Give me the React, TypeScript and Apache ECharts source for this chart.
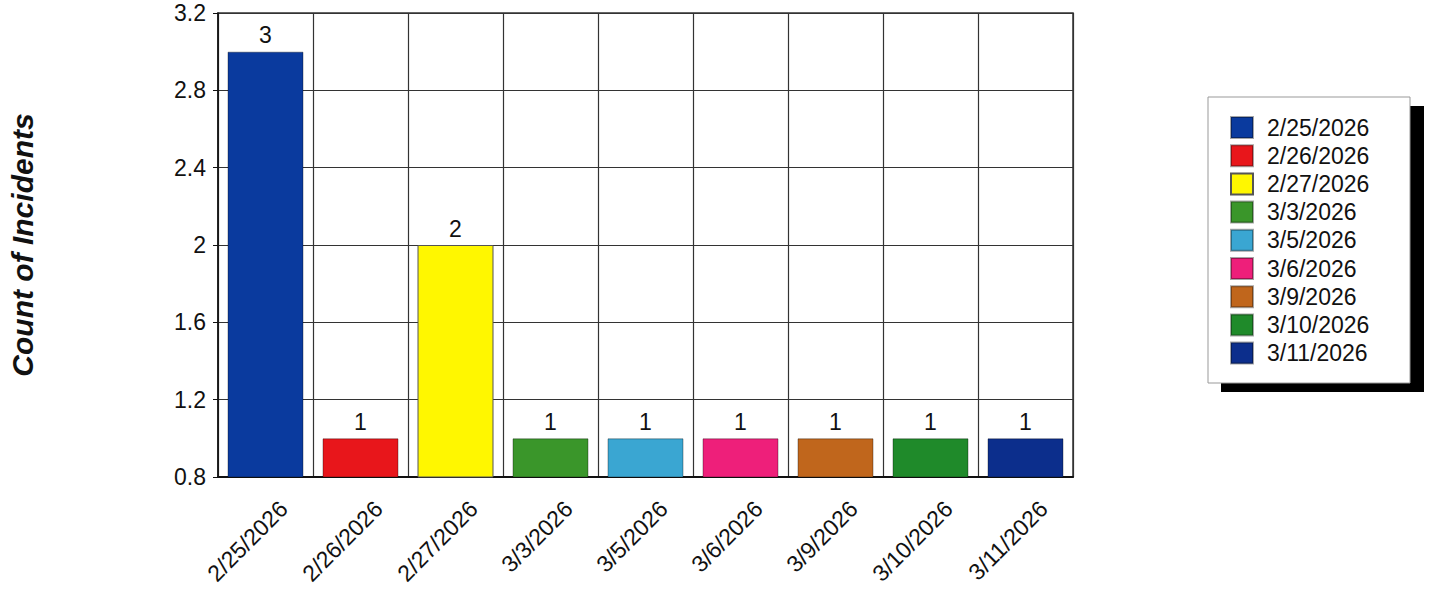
import React, { useEffect, useRef } from "react";
import * as echarts from "echarts";

const categories = [
  "2/25/2026",
  "2/26/2026",
  "2/27/2026",
  "3/3/2026",
  "3/5/2026",
  "3/6/2026",
  "3/9/2026",
  "3/10/2026",
  "3/11/2026",
];
const counts = [3, 1, 2, 1, 1, 1, 1, 1, 1];
const barColors = [
  "#0a3a9e",
  "#e8161b",
  "#fff700",
  "#3a962a",
  "#3aa6d2",
  "#ee1f7a",
  "#c0661c",
  "#1f8a2a",
  "#0c2e8c",
];
const yAxisTitle = "Count of Incidents";
const yMin = 0.8;
const yMax = 3.2;
const yStep = 0.4;

const FONT = '"Liberation Sans", Arial, Helvetica, sans-serif';

export default function App() {
  const ref = useRef<HTMLDivElement>(null);
  useEffect(() => {
    if (!ref.current) return;
    const chart = echarts.init(ref.current, undefined, { renderer: "svg" });
    const series = categories.map((name, i) => ({
      name,
      type: "bar",
      stack: "all",
      barWidth: "80%",
      data: categories.map((_, j) => (j === i ? counts[i] : "-")),
      itemStyle: {
        color: barColors[i],
        borderColor: i === 2 ? "#555" : "rgba(0,0,0,0.35)",
        borderWidth: 1,
      },
      label: {
        show: true,
        position: "top",
        distance: 5,
        color: "#111",
        fontSize: 23,
        fontFamily: FONT,
      },
    }));
    chart.setOption({
      animation: false,
      backgroundColor: "#ffffff",
      textStyle: { fontFamily: FONT },
      grid: {
        left: 218,
        right: 359,
        top: 13,
        bottom: 113,
        outerBoundsMode: "none",
        containLabel: false,
        show: true,
        borderColor: "#333",
        borderWidth: 1.5,
        backgroundColor: "#ffffff",
      },
      graphic: [
        {
          type: "rect",
          z: 1,
          shape: { x: 1221, y: 106, width: 203, height: 286 },
          style: { fill: "#000" },
        },
        {
          type: "rect",
          z: 2,
          shape: { x: 1208, y: 97, width: 202, height: 286 },
          style: { fill: "#fff", stroke: "#999", lineWidth: 1 },
        },
      ],
      legend: {
        orient: "vertical",
        left: 1230,
        top: 116,
        padding: 0,
        itemWidth: 22,
        itemHeight: 21,
        itemGap: 5.2,
        selectedMode: false,
        icon: "rect",
        z: 10,
        textStyle: {
          fontSize: 23,
          color: "#111",
          fontFamily: FONT,
          padding: [0, 0, 0, 9],
          lineHeight: 21,
        },
        data: categories,
      },
      xAxis: {
        type: "category",
        data: categories,
        axisLine: { show: true, lineStyle: { color: "#111", width: 2 } },
        axisTick: { show: false },
        splitLine: {
          show: true,
          interval: 0,
          lineStyle: { color: "#333", width: 1.2 },
        },
        axisLabel: {
          interval: 0,
          rotate: 45,
          fontSize: 23,
          color: "#111",
          fontFamily: FONT,
          margin: 0,
          align: "right",
          verticalAlign: "top",
          padding: [21, 7, 0, 0],
        },
      },
      yAxis: {
        type: "value",
        min: yMin,
        max: yMax,
        interval: yStep,
        name: yAxisTitle,
        nameLocation: "middle",
        nameRotate: 90,
        nameGap: 181,
        nameTextStyle: {
          fontSize: 30,
          fontWeight: "bold",
          fontStyle: "italic",
          color: "#111",
          fontFamily: FONT,
        },
        axisLine: { show: true, lineStyle: { color: "#111", width: 1.5 } },
        axisTick: { show: true, length: 5, lineStyle: { color: "#111" } },
        splitLine: { show: true, lineStyle: { color: "#333", width: 1.2 } },
        axisLabel: {
          fontSize: 23,
          color: "#111",
          fontFamily: FONT,
          margin: 12,
        },
      },
      series,
    });
    return () => chart.dispose();
  }, []);
  return (
    <div
      ref={ref}
      style={{ position: "fixed", left: 0, top: 0, width: 1432, height: 590 }}
    />
  );
}
